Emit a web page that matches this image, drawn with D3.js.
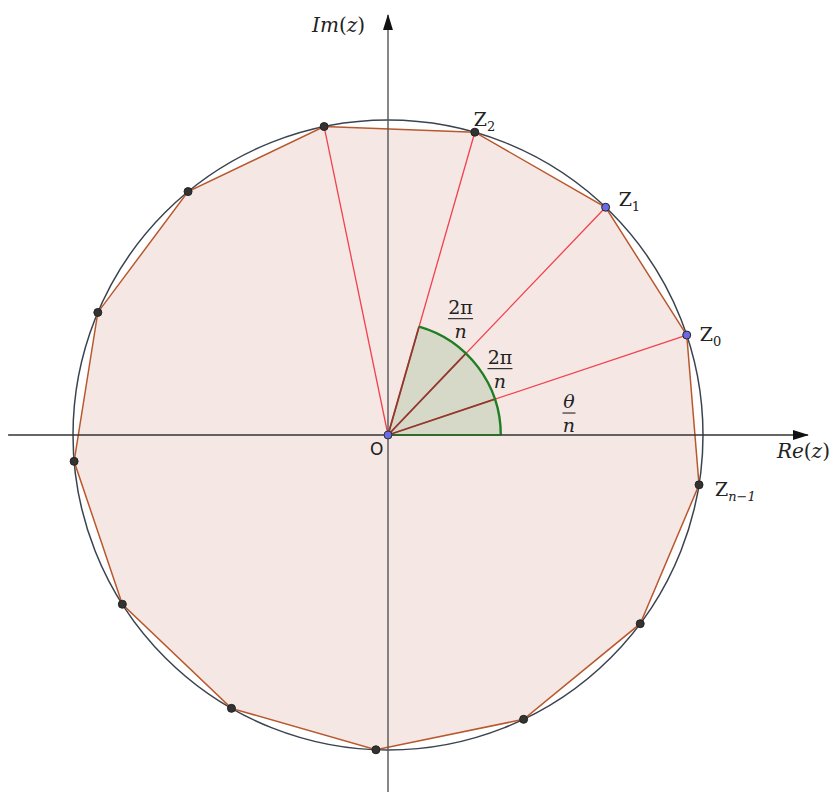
<!DOCTYPE html>
<html>
<head>
<meta charset="utf-8">
<script src="https://cdn.jsdelivr.net/npm/d3@7"></script>
<style>
	body { margin: 0; background: #fff; }
	.math { font-family: 'DejaVu Serif', 'Liberation Serif', serif; font-style: italic; fill: #222; }
	.upright { font-style: normal; }
</style>
</head>
<body>
<div id="chart"></div>
<script>
// vertex angles (degrees) of the 13-gon, Z0 first
const vertexAngles = [18.5, 46.3, 74.0, 101.7, 129.4, 157.1, 184.8, 212.5, 240.2, 267.8, 295.5, 323.2, 350.9];
// which vertices get a label / blue dot
const vertexNames  = ['Z0', 'Z1', 'Z2', '', '', '', '', '', '', '', '', '', 'Zn-1'];
const blueVertices = [0, 1];
// red rays from O go to these vertices
const rayVertices  = [0, 1, 2, 3];
// sector: from 0 deg to the angle of Z2, radius as a fraction of the circle
const sectorAngles = [0, 74.0];
const sectorRadius = 0.358;
// axis extents in circle units
const xAxisRange = [-1.206, 1.333];
const yAxisRange = [-1.133, 1.333];

let width  = 831,
	height = 792;

let x = d3.scaleLinear().domain([-1, 1]).range([73, 703]);
let y = d3.scaleLinear().domain([-1, 1]).range([750, 120]);

let rad = function(a){ return a * Math.PI / 180; };
let px = function(a, r){ return x(r * Math.cos(rad(a))); };
let py = function(a, r){ return y(r * Math.sin(rad(a))); };

let svg = d3.select('#chart')
	.append('svg')
	.attr('width', width)
	.attr('height', height);

let defs = svg.append('defs');
defs.append('marker')
	.attr('id', 'arrow')
	.attr('viewBox', '0 0 16 10')
	.attr('refX', 15)
	.attr('refY', 5)
	.attr('markerWidth', 16)
	.attr('markerHeight', 10)
	.attr('markerUnits', 'userSpaceOnUse')
	.attr('orient', 'auto')
	.append('path')
	.attr('d', 'M0,0 L16,5 L0,10 Z')
	.attr('fill', '#111');

let r0 = x(1) - x(0);

// polygon
let pts = vertexAngles.map(function(a){ return [px(a, 1), py(a, 1)]; });
svg.append('path')
	.attr('d', d3.line()(pts) + 'Z')
	.attr('fill', '#f5e8e4')
	.attr('stroke', 'none');

// sector (filled)
let arc = d3.arc()
	.innerRadius(0)
	.outerRadius(r0 * sectorRadius)
	.startAngle(rad(90 - sectorAngles[0]))
	.endAngle(rad(90 - sectorAngles[1]));
svg.append('path')
	.attr('transform', 'translate(' + x(0) + ',' + y(0) + ')')
	.attr('d', arc())
	.attr('fill', '#d7d9c8');

// red rays
svg.selectAll('.ray')
	.data(rayVertices)
	.enter()
	.append('line')
	.attr('class', 'ray')
	.attr('x1', x(0)).attr('y1', y(0))
	.attr('x2', function(i){ return px(vertexAngles[i], 1); })
	.attr('y2', function(i){ return py(vertexAngles[i], 1); })
	.attr('stroke', '#f2404f')
	.attr('stroke-width', 1.3);

// rays inside the sector look darker (brown)
svg.selectAll('.ray-in')
	.data(rayVertices.filter(function(i){ return vertexAngles[i] <= sectorAngles[1]; }))
	.enter()
	.append('line')
	.attr('class', 'ray-in')
	.attr('x1', x(0)).attr('y1', y(0))
	.attr('x2', function(i){ return px(vertexAngles[i], sectorRadius); })
	.attr('y2', function(i){ return py(vertexAngles[i], sectorRadius); })
	.attr('stroke', '#8e3a2c')
	.attr('stroke-width', 1.8);

// sector outline (arc)
let arcLine = d3.arc()
	.innerRadius(r0 * sectorRadius)
	.outerRadius(r0 * sectorRadius)
	.startAngle(rad(90 - sectorAngles[0]))
	.endAngle(rad(90 - sectorAngles[1]));
svg.append('path')
	.attr('transform', 'translate(' + x(0) + ',' + y(0) + ')')
	.attr('d', arcLine())
	.attr('fill', 'none')
	.attr('stroke', '#1f7d24')
	.attr('stroke-width', 2.4);

// circle
svg.append('circle')
	.attr('cx', x(0))
	.attr('cy', y(0))
	.attr('r', r0)
	.attr('fill', 'none')
	.attr('stroke', '#3a4450')
	.attr('stroke-width', 1.5);

// polygon edges
svg.append('path')
	.attr('d', d3.line()(pts) + 'Z')
	.attr('fill', 'none')
	.attr('stroke', '#b8582e')
	.attr('stroke-width', 1.5);

// axes
svg.append('line')
	.attr('x1', x(xAxisRange[0])).attr('y1', y(0))
	.attr('x2', x(xAxisRange[1])).attr('y2', y(0))
	.attr('stroke', '#333')
	.attr('stroke-width', 1.4)
	.attr('marker-end', 'url(#arrow)');

svg.append('line')
	.attr('x1', x(0)).attr('y1', y(yAxisRange[0]))
	.attr('x2', x(0)).attr('y2', y(yAxisRange[1]))
	.attr('stroke', '#555')
	.attr('stroke-width', 1.4)
	.attr('marker-end', 'url(#arrow)');

// sector bottom edge in green over the x-axis
svg.append('line')
	.attr('x1', x(0)).attr('y1', y(0))
	.attr('x2', x(sectorRadius)).attr('y2', y(0))
	.attr('stroke', '#2f6b2c')
	.attr('stroke-width', 2);

// points
svg.selectAll('.vertex')
	.data(vertexAngles)
	.enter()
	.append('circle')
	.attr('class', 'vertex')
	.attr('cx', function(a){ return px(a, 1); })
	.attr('cy', function(a){ return py(a, 1); })
	.attr('r', 4)
	.attr('fill', function(a, i){ return blueVertices.indexOf(i) >= 0 ? '#6a6ae8' : '#333'; })
	.attr('stroke', '#222')
	.attr('stroke-width', 1);

svg.append('circle')
	.attr('cx', x(0)).attr('cy', y(0))
	.attr('r', 4)
	.attr('fill', '#6a6ae8')
	.attr('stroke', '#333')
	.attr('stroke-width', 1);

// vertex labels, offset to the right of the point
let labelOffsets = { 'Z0': [13, 6], 'Z1': [13, -1], 'Z2': [-1, -6], 'Zn-1': [16, 11] };
vertexNames.forEach(function(name, i){
	if (!name) return;
	let off = labelOffsets[name];
	let t = svg.append('text')
		.attr('class', 'math upright')
		.attr('x', px(vertexAngles[i], 1) + off[0])
		.attr('y', py(vertexAngles[i], 1) + off[1])
		.attr('font-size', 19);
	t.append('tspan').text('Z');
	t.append('tspan')
		.attr('font-size', 13)
		.attr('dy', 5)
		.attr('font-style', name === 'Zn-1' ? 'italic' : 'normal')
		.text(name === 'Zn-1' ? 'n\u22121' : name.slice(1));
});

// axis labels
let im = svg.append('text')
	.attr('class', 'math')
	.attr('x', x(0) - 76)
	.attr('y', y(yAxisRange[1]) + 17)
	.attr('font-size', 20);
im.append('tspan').text('Im');
im.append('tspan').attr('class', 'upright').text('(');
im.append('tspan').text('z');
im.append('tspan').attr('class', 'upright').text(')');

let re = svg.append('text')
	.attr('class', 'math')
	.attr('x', x(xAxisRange[1]) - 31)
	.attr('y', y(0) + 23)
	.attr('font-size', 20);
re.append('tspan').text('Re');
re.append('tspan').attr('class', 'upright').text('(');
re.append('tspan').text('z');
re.append('tspan').attr('class', 'upright').text(')');

svg.append('text')
	.attr('x', x(0) - 18)
	.attr('y', y(0) + 20)
	.attr('font-family', 'DejaVu Sans, sans-serif')
	.attr('font-size', 17)
	.attr('fill', '#222')
	.text('O');

// fraction labels: [numerator, polar angle, polar radius, bar width]
let fracs = [
	['2\u03c0', 57.6, 0.43, 25],
	['2\u03c0', 29.9, 0.41, 25],
	['\u03b8', 6.3, 0.578, 13]
];
fracs.forEach(function(f){
	let cx = px(f[1], f[2]),
		cy = py(f[1], f[2]);
	svg.append('text')
		.attr('class', 'math upright')
		.attr('x', cx).attr('y', cy - 7)
		.attr('text-anchor', 'middle')
		.attr('font-size', 19)
		.style('font-style', f[0] === '\u03b8' ? 'italic' : 'normal')
		.text(f[0]);
	svg.append('line')
		.attr('x1', cx - f[3] / 2).attr('x2', cx + f[3] / 2)
		.attr('y1', cy - 2).attr('y2', cy - 2)
		.attr('stroke', '#333')
		.attr('stroke-width', 1.2);
	svg.append('text')
		.attr('class', 'math')
		.attr('x', cx).attr('y', cy + 17)
		.attr('text-anchor', 'middle')
		.attr('font-size', 19)
		.text('n');
});
</script>
</body>
</html>
